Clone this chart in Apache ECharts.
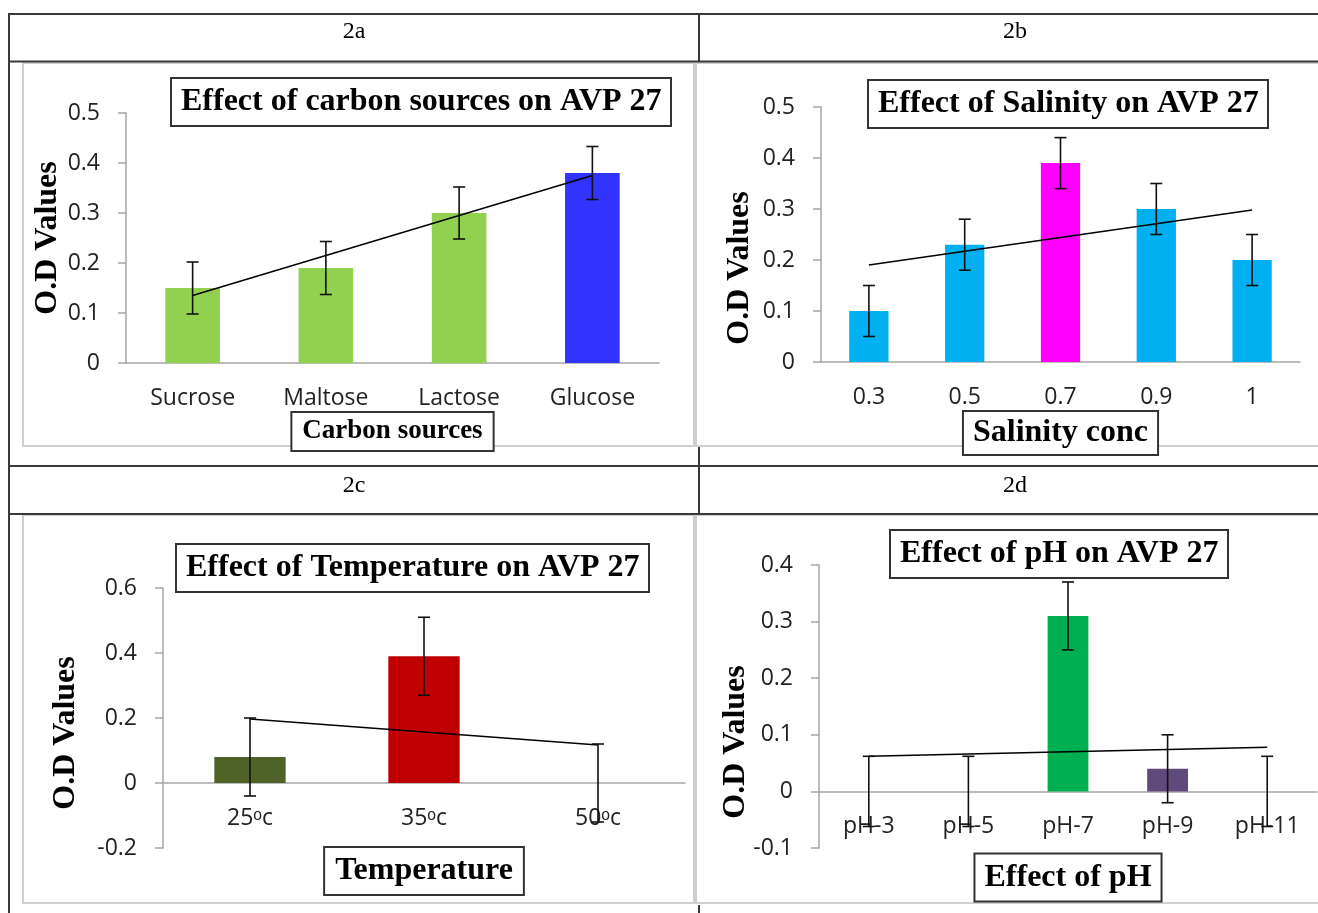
<!DOCTYPE html>
<html><head><meta charset="utf-8">
<script src="https://cdn.jsdelivr.net/npm/echarts@6/dist/echarts.min.js"></script>
<style>html,body{margin:0;padding:0;background:#fff}#c{width:1318px;height:913px}</style>
</head><body><div id="c"></div>
<script>
// ---- Panel 2a: carbon sources ----
const catA = ['Sucrose', 'Maltose', 'Lactose', 'Glucose'];
const valA = [0.15, 0.19, 0.30, 0.38];
const errA = [0.052, 0.053, 0.052, 0.053];
const trendA = [0.135, 0.215, 0.295, 0.375];
const colA = ['#92D050', '#92D050', '#92D050', '#3333FF'];
// ---- Panel 2b: salinity ----
const catB = ['0.3', '0.5', '0.7', '0.9', '1'];
const valB = [0.10, 0.23, 0.39, 0.30, 0.20];
const errB = [0.05, 0.05, 0.05, 0.05, 0.05];
const trendB = [0.19, 0.217, 0.244, 0.271, 0.298];
const colB = ['#00B0F0', '#00B0F0', '#FF00FF', '#00B0F0', '#00B0F0'];
// ---- Panel 2c: temperature ----
const catC = ['25ᵒc', '35ᵒc', '50ᵒc'];
const valC = [0.08, 0.39, 0];
const errC = [0.12, 0.12, 0.12];
const trendC = [0.197, 0.157, 0.117];
const colC = ['#4F6228', '#C00000', '#4F6228'];
// ---- Panel 2d: pH ----
const catD = ['pH-3', 'pH-5', 'pH-7', 'pH-9', 'pH-11'];
const valD = [0, 0, 0.31, 0.04, 0];
const errD = [0.062, 0.062, 0.06, 0.06, 0.062];
const trendD = [0.062, 0.066, 0.07, 0.074, 0.078];
const colD = ['#00B050', '#00B050', '#00B050', '#604A7B', '#00B050'];
// ---- axis ranges ----
const yA = [0, 0.5, 0.1];
const yB = [0, 0.5, 0.1];
const yC = [-0.2, 0.6, 0.2];
const yD = [-0.1, 0.4, 0.1];

const SERIF = '"Liberation Serif", "Times New Roman", serif';
const SANS = '"Open Sans", "Liberation Sans", "DejaVu Sans", sans-serif';
const AX = '#A6A6A6';

const grids = [
  { left: 126, top: 113, width: 533, height: 250 },
  { left: 821, top: 107, width: 479, height: 255 },
  { left: 163, top: 588, width: 522, height: 260 },
  { left: 819, top: 565, width: 498, height: 283 }
];
const ranges = [yA, yB, yC, yD];

function yAxis(idx, r) {
  return {
    type: 'value', gridIndex: idx, min: r[0], max: r[1], interval: r[2],
    axisLine: { show: true, lineStyle: { color: AX, width: 1.5 } },
    axisTick: { show: true, length: 8, lineStyle: { color: AX, width: 1.5 } },
    splitLine: { show: false },
    axisLabel: { margin: 26, fontSize: 23, color: '#222', fontFamily: SANS, hideOverlap: false }
  };
}
function xAxis(idx, cats, name, nameSize, gap, pad) {
  const r = ranges[idx], g = grids[idx];
  // place the category axis on the zero line of the value axis
  const off = -g.height * (0 - r[0]) / (r[1] - r[0]);
  return {
    type: 'category', gridIndex: idx, data: cats, offset: off,
    axisLine: { show: true, onZero: false, lineStyle: { color: AX, width: 1.5 } },
    axisTick: { show: false },
    axisLabel: { margin: 24, fontSize: 23, color: '#222', fontFamily: SANS, interval: 0, hideOverlap: false },
    name: name, nameLocation: 'middle', nameGap: gap,
    nameTextStyle: { fontFamily: SERIF, fontWeight: 'bold', fontSize: nameSize, color: '#000',
      borderColor: '#333', borderWidth: 2, padding: pad, backgroundColor: '#fff' }
  };
}
function bars(idx, vals, cols) {
  return { type: 'bar', xAxisIndex: idx, yAxisIndex: idx, barWidth: '41%', z: 2,
    data: vals.map((v, i) => ({ value: v, itemStyle: { color: cols[i] } })) };
}
function trend(idx, vals) {
  return { type: 'line', xAxisIndex: idx, yAxisIndex: idx, data: vals, symbol: 'none', z: 4,
    lineStyle: { color: '#000', width: 1.5 } };
}
function errBars(idx, vals, errs) {
  return { type: 'custom', xAxisIndex: idx, yAxisIndex: idx, z: 5,
    data: vals.map((v, i) => [i, v - errs[i], v + errs[i]]),
    encode: { x: 0, y: [1, 2] },
    renderItem: function (params, api) {
      const x = api.value(0);
      const lo = api.coord([x, api.value(1)]);
      const hi = api.coord([x, api.value(2)]);
      const w = 6;
      const st = { stroke: '#111', lineWidth: 1.6 };
      return { type: 'group', children: [
        { type: 'line', shape: { x1: lo[0], y1: lo[1], x2: hi[0], y2: hi[1] }, style: st },
        { type: 'line', shape: { x1: lo[0] - w, y1: lo[1], x2: lo[0] + w, y2: lo[1] }, style: st },
        { type: 'line', shape: { x1: hi[0] - w, y1: hi[1], x2: hi[0] + w, y2: hi[1] }, style: st }
      ] };
    } };
}
function title(text, left, top) {
  return { text: text, left: left, top: top, padding: [8, 10], borderWidth: 2, borderColor: '#333',
    textStyle: { fontFamily: SERIF, fontWeight: 'bold', fontSize: 32, color: '#000' } };
}
const DARK = { stroke: '#3a3a3a', lineWidth: 2 };
const LIGHT = { stroke: '#CFCFCF', lineWidth: 2, fill: 'none' };
function ln(x1, y1, x2, y2, st) { return { type: 'line', shape: { x1, y1, x2, y2 }, style: st, silent: true }; }
function box(x, y, w, h) { return { type: 'rect', shape: { x, y, width: w, height: h }, style: LIGHT, silent: true }; }
function txt(t, x, y, font, rot) {
  return { type: 'text', x: x, y: y, rotation: rot || 0, silent: true,
    style: { text: t, font: font, fill: '#000', align: 'center', verticalAlign: 'middle' } };
}

const option = {
  animation: false,
  backgroundColor: '#fff',
  title: [
    title('Effect of carbon sources on AVP 27', 171, 78),
    title('Effect of Salinity on AVP 27', 868, 80),
    title('Effect of Temperature on AVP 27', 176, 544),
    title('Effect of pH on AVP 27', 890, 530)
  ],
  grid: grids.map(g => Object.assign({ containLabel: false, outerBoundsMode: 'none' }, g)),
  xAxis: [
    xAxis(0, catA, 'Carbon sources', 27, 44, [5, 10]),
    xAxis(1, catB, 'Salinity conc', 32, 40, [5, 9]),
    xAxis(2, catC, 'Temperature', 32, 65, [7, 10]),
    xAxis(3, catD, 'Effect of pH', 32, 63, [7, 9])
  ],
  yAxis: [yAxis(0, yA), yAxis(1, yB), yAxis(2, yC), yAxis(3, yD)],
  series: [
    bars(0, valA, colA), trend(0, trendA), errBars(0, valA, errA),
    bars(1, valB, colB), trend(1, trendB), errBars(1, valB, errB),
    bars(2, valC, colC), trend(2, trendC), errBars(2, valC, errC),
    bars(3, valD, colD), trend(3, trendD), errBars(3, valD, errD)
  ],
  graphic: [
    // chart-area frames
    box(23, 63, 671, 383), box(696, 63, 640, 383),
    box(23, 515, 671, 388), box(696, 515, 640, 388),
    // table lines
    ln(9, 14, 1318, 14, DARK), ln(9, 61.5, 1318, 61.5, DARK),
    ln(9, 466, 1318, 466, DARK), ln(9, 514, 1318, 514, DARK),
    ln(9, 13, 9, 913, DARK),
    ln(699, 14, 699, 61.5, DARK), ln(699, 447, 699, 514, DARK), ln(699, 905, 699, 913, DARK),
    // panel labels
    txt('2a', 354, 32, '24px ' + SERIF), txt('2b', 1015, 32, '24px ' + SERIF),
    txt('2c', 354, 486, '24px ' + SERIF), txt('2d', 1015, 486, '24px ' + SERIF),
    // y axis titles
    txt('O.D Values', 48, 238, 'bold 32px ' + SERIF, Math.PI / 2),
    txt('O.D Values', 740, 268, 'bold 32px ' + SERIF, Math.PI / 2),
    txt('O.D Values', 66, 733, 'bold 32px ' + SERIF, Math.PI / 2),
    txt('O.D Values', 736, 742, 'bold 32px ' + SERIF, Math.PI / 2)
  ]
};
const chart = echarts.init(document.getElementById('c'));
chart.setOption(option);
</script></body></html>
